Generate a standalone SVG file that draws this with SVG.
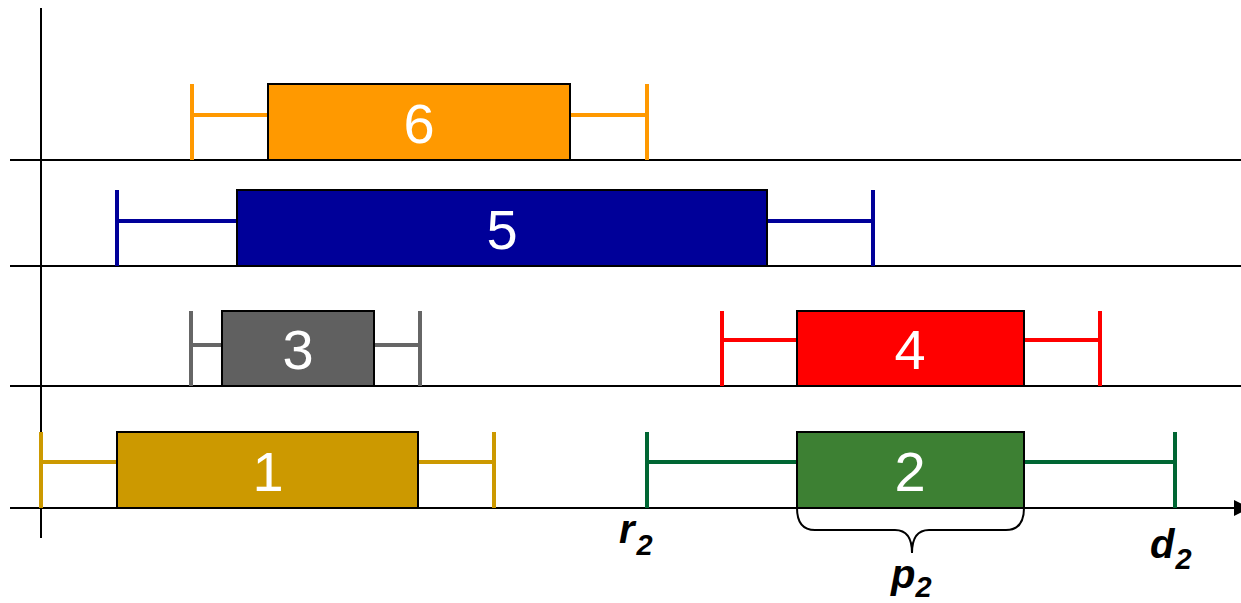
<svg xmlns="http://www.w3.org/2000/svg" width="1241" height="603" viewBox="0 0 1241 603">
<style>
.ax{stroke:#000;stroke-width:2;fill:none}
.box{stroke:#000;stroke-width:2}
.wh{stroke-width:4;fill:none}
.num{font-family:"Liberation Sans",Arial,sans-serif;font-size:56px;fill:#fff;text-anchor:middle}
.lbl{font-family:"Liberation Sans",Arial,sans-serif;font-weight:bold;font-style:italic;fill:#000;font-size:40px}
.sub{font-size:29px}
</style>
<defs>
<marker id="arr" markerWidth="16" markerHeight="16" refX="0" refY="8" orient="auto" markerUnits="userSpaceOnUse">
<path d="M0,0 L16,8 L0,16 Z" fill="#000"/>
</marker>
</defs>
<rect width="1241" height="603" fill="#fff"/>
<g id="connectors">
<line class="ax" x1="41" y1="8" x2="41" y2="538"/>
<line class="ax" x1="10" y1="160" x2="1241" y2="160"/>
<line class="ax" x1="10" y1="266" x2="1241" y2="266"/>
<line class="ax" x1="10" y1="386" x2="1241" y2="386"/>
<line class="ax" x1="10" y1="508" x2="1234" y2="508" marker-end="url(#arr)"/>
<path class="ax" d="M797,508 Q797,530 815,530 L895,530 Q912,530 912,553 Q912,530 929,530 L1006,530 Q1024,530 1024,508" stroke-width="1.5"/>
</g>
<g id="job6">
<path class="wh" stroke="#FF9900" d="M192,84 V160 M192,115 H268 M570,115 H647 M647,84 V160"/>
<rect class="box" x="268" y="84" width="302" height="76" fill="#FF9900"/>
<text class="num" x="419" y="143">6</text>
</g>
<g id="job5">
<path class="wh" stroke="#000099" d="M117,190 V266 M117,221 H237 M767,221 H873 M873,190 V266"/>
<rect class="box" x="237" y="190" width="530" height="76" fill="#000099"/>
<text class="num" x="502" y="249">5</text>
</g>
<g id="job3">
<path class="wh" stroke="#666666" d="M191,311 V386 M191,345 H222 M374,345 H420 M420,311 V386"/>
<rect class="box" x="222" y="311" width="152" height="75" fill="#606060"/>
<text class="num" x="298" y="369">3</text>
</g>
<g id="job4">
<path class="wh" stroke="#FF0000" d="M722,311 V386 M722,340 H797 M1024,340 H1100 M1100,311 V386"/>
<rect class="box" x="797" y="311" width="227" height="75" fill="#FF0000"/>
<text class="num" x="910" y="369">4</text>
</g>
<g id="job1">
<path class="wh" stroke="#CC9900" d="M41,432 V508 M41,462 H117 M418,462 H494 M494,432 V508"/>
<rect class="box" x="117" y="432" width="301" height="76" fill="#CC9900"/>
<text class="num" x="268" y="491">1</text>
</g>
<g id="job2">
<path class="wh" stroke="#006633" d="M647,432 V508 M647,462 H797 M1024,462 H1175 M1175,432 V508"/>
<rect class="box" x="797" y="432" width="227" height="76" fill="#3D8033"/>
<text class="num" x="910" y="491">2</text>
</g>
<g id="labels">
<text class="lbl" x="619" y="543">r<tspan class="sub" dx="2" dy="12">2</tspan></text>
<text class="lbl" x="1150" y="558">d<tspan class="sub" dx="1" dy="11">2</tspan></text>
<text class="lbl" x="891" y="588">p<tspan class="sub" dx="0" dy="9">2</tspan></text>
</g>
</svg>
